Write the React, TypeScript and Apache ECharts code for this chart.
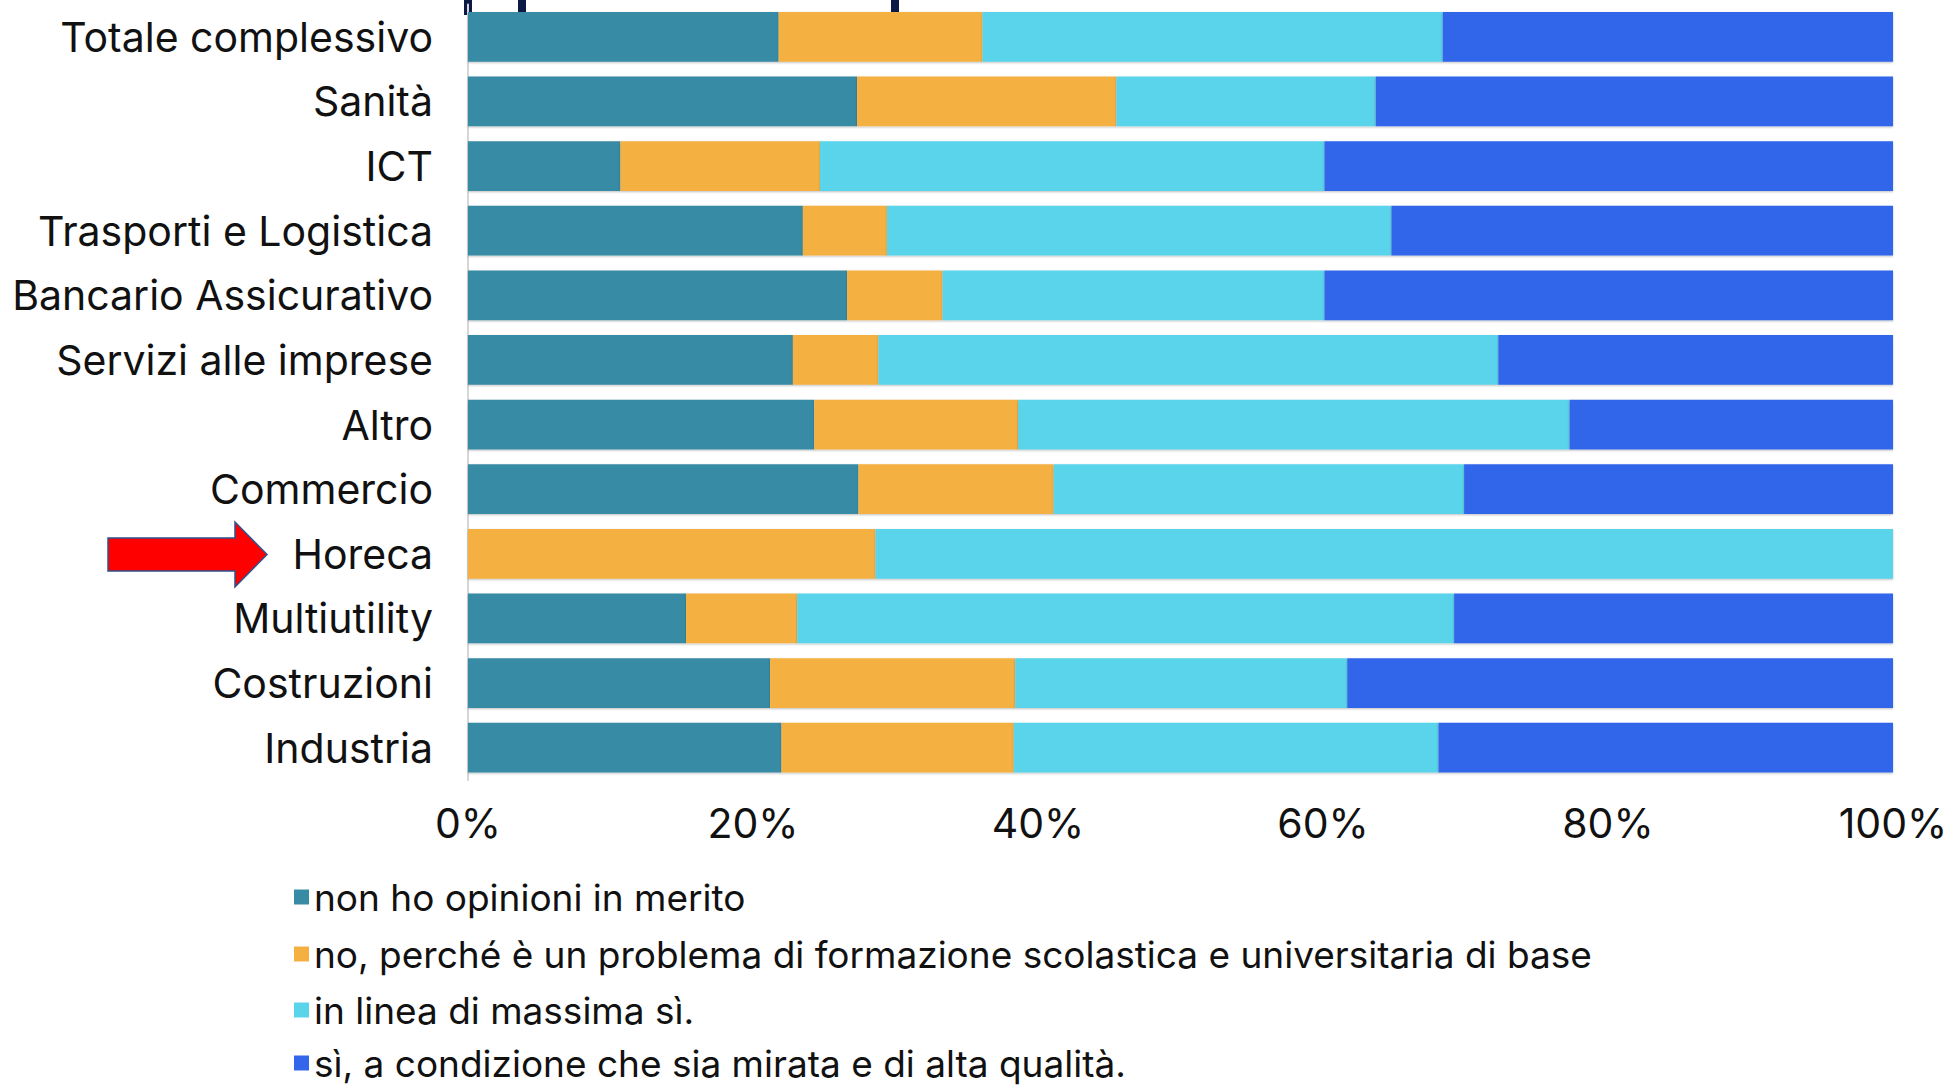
import React, { useEffect, useRef } from "react";
import * as echarts from "echarts";

const categories = [
  "Totale complessivo",
  "Sanità",
  "ICT",
  "Trasporti e Logistica",
  "Bancario Assicurativo",
  "Servizi alle imprese",
  "Altro",
  "Commercio",
  "Horeca",
  "Multiutility",
  "Costruzioni",
  "Industria",
];

const seriesNames = [
  "non ho opinioni in merito",
  "no, perché è un problema di formazione scolastica e universitaria di base",
  "in linea di massima sì.",
  "sì, a condizione che sia mirata e di alta qualità.",
];

const nonHoOpinioni = [21.8, 27.3, 10.7, 23.5, 26.6, 22.8, 24.3, 27.4, 0, 15.3, 21.2, 22.0];
const noFormazione = [14.3, 18.2, 14.0, 5.9, 6.7, 6.0, 14.3, 13.7, 28.6, 7.8, 17.2, 16.3];
const inLinea = [32.3, 18.2, 35.4, 35.4, 26.8, 43.5, 38.7, 28.8, 71.4, 46.1, 23.3, 29.8];
const siCondizione = [31.6, 36.3, 39.9, 35.2, 39.9, 27.7, 22.7, 30.1, 0, 30.8, 38.3, 31.9];

const colors = ["#388BA5", "#F5B042", "#5AD4EA", "#3366EA"];

const legendTops = [874, 931, 987, 1040];

const FONT = "Inter, 'Noto Sans', sans-serif";

export default function App() {
  const ref = useRef<HTMLDivElement>(null);

  useEffect(() => {
    if (!ref.current) return;
    const chart = echarts.init(ref.current, undefined, { renderer: "svg" });
    const values = [nonHoOpinioni, noFormazione, inLinea, siCondizione];
    chart.setOption({
      animation: false,
      backgroundColor: "#ffffff",
      textStyle: { fontFamily: FONT },
      grid: { left: 468, right: 59, top: 4.5, bottom: 307, containLabel: false },
      xAxis: {
        type: "value",
        min: 0,
        max: 100,
        interval: 20,
        axisLine: { show: false },
        axisTick: { show: false },
        splitLine: { show: false },
        axisLabel: {
          formatter: "{value}%",
          fontSize: 41,
          color: "#111111",
          margin: 22,
          fontFamily: FONT,
        },
      },
      yAxis: {
        type: "category",
        data: categories,
        inverse: true,
        axisLine: { show: true, lineStyle: { color: "#d6d6d6", width: 2 } },
        axisTick: { show: false },
        axisLabel: {
          fontSize: 41,
          color: "#111111",
          margin: 35,
          fontFamily: FONT,
        },
      },
      legend: seriesNames.map((name, i) => ({
        orient: "vertical",
        left: 294,
        top: legendTops[i],
        padding: 0,
        itemWidth: 15,
        itemHeight: 15,
        icon: "rect",
        selectedMode: false,
        textStyle: { fontSize: 37, color: "#111111", fontFamily: FONT, lineHeight: 46 },
        data: [name],
      })),
      series: seriesNames.map((name, i) => ({
        name,
        type: "bar",
        stack: "total",
        data: values[i],
        barCategoryGap: "23%",
        itemStyle: {
          color: colors[i],
          shadowColor: "rgba(0,0,0,0.25)",
          shadowBlur: 2,
          shadowOffsetY: 1,
        },
        emphasis: { disabled: true },
      })),
      graphic: [
        { type: "rect", shape: { x: 464, y: 0, width: 8, height: 15 }, style: { fill: "#0B1A45" } },
        { type: "rect", shape: { x: 518, y: 0, width: 8, height: 15 }, style: { fill: "#0B1A45" } },
        { type: "rect", shape: { x: 891, y: 0, width: 8, height: 15 }, style: { fill: "#0B1A45" } },
        {
          type: "polygon",
          shape: {
            points: [
              [108, 538],
              [235, 538],
              [235, 522],
              [267, 554.5],
              [235, 587],
              [235, 571],
              [108, 571],
            ],
          },
          style: { fill: "#FF0000", stroke: "#2F528F", lineWidth: 1.5 },
        },
      ],
    });
    return () => chart.dispose();
  }, []);

  return (
    <div
      ref={ref}
      style={{ position: "fixed", left: 0, top: 0, width: "1952px", height: "1087px" }}
    />
  );
}
